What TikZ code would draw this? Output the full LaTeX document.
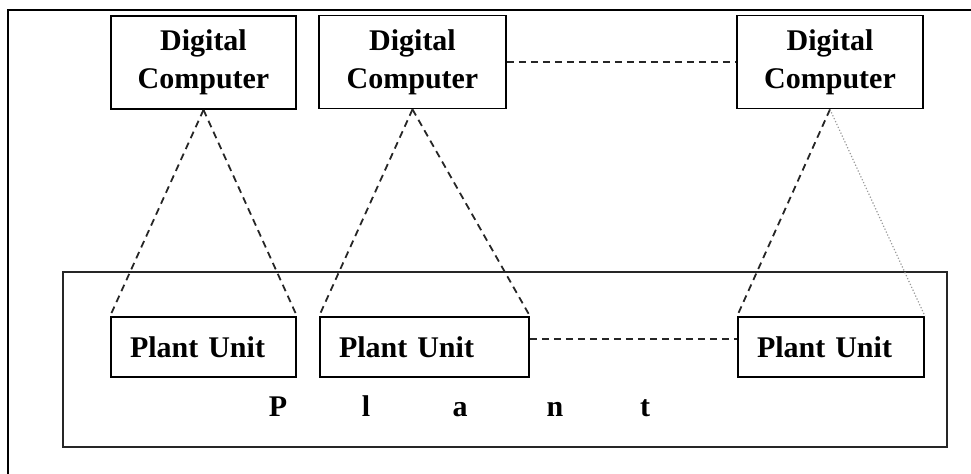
\documentclass[tikz,border=0pt]{standalone}
\usepackage{fontspec}
\setmainfont{Liberation Serif}
\usetikzlibrary{positioning}
\begin{document}
\begin{tikzpicture}[x=0.5pt,y=-0.5pt,
  every node/.style={font=\fontsize{15}{19}\selectfont\bfseries},
  comp/.style={draw,line width=0.9pt,minimum height=46.5pt,align=center,inner sep=0pt},
  pu/.style={draw,line width=0.9pt,minimum height=30pt,inner xsep=9.5pt,inner ysep=0pt,align=left},
  link/.style={line width=0.9pt,black!85,dash pattern=on 3.5pt off 2.5pt}]
\useasboundingbox (0,0) rectangle (971,474);
\draw[line width=1pt] (8,474) -- (8,10) -- (971,10);
\draw[line width=0.9pt,black!85] (63,272) rectangle (947,447);
\node[comp,minimum width=92.5pt] (dc1) at (203.5,62.5) {Digital\\Computer};
\node[comp,minimum width=93.5pt] (dc2) at (412.5,62) {Digital\\Computer};
\node[comp,minimum width=93pt] (dc3) at (830,62) {Digital\\Computer};
\node[pu,text width=73.5pt] (pu1) at (203.5,347) {Plant Unit};
\node[pu,text width=85.5pt] (pu2) at (424.5,347) {Plant Unit};
\node[pu,text width=74pt] (pu3) at (831,347) {Plant Unit};
\foreach \ch/\x in {P/278,l/366,a/460,n/555,t/645}
  \node[anchor=base] (plant\ch) at (\x,417) {\ch};
\draw[link] (dc1.south) -- (pu1.north west);
\draw[link] (dc1.south) -- (pu1.north east);
\draw[link] (dc2.south) -- (pu2.north west);
\draw[link] (dc2.south) -- (pu2.north east);
\draw[link] (dc3.south) -- (pu3.north west);
\draw[gray!80,line width=0.6pt,densely dotted] (dc3.south) -- (pu3.north east);
\draw[link] (dc2.east) -- (dc3.west);
\draw[link] ([yshift=4pt]pu2.east) -- ([yshift=4pt]pu3.west);
\end{tikzpicture}
\end{document}
